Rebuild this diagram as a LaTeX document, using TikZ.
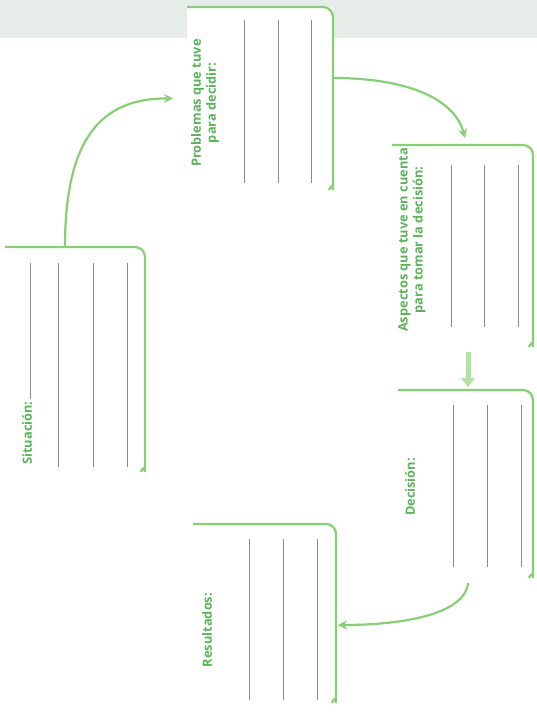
\documentclass[tikz,border=0pt]{standalone}
\usepackage{fontspec}
\setmainfont{Open Sans}
\usetikzlibrary{arrows.meta}
\definecolor{Leaf}{HTML}{86CF74}
\definecolor{LeafText}{HTML}{5BB35A}
\definecolor{Pale}{HTML}{B2E2A2}
\definecolor{Pencil}{HTML}{8A8A8A}
\definecolor{Band}{HTML}{E6EDE8}
\tikzset{
  sheet box/.style={inner sep=0pt,outer sep=0pt},
  sheet frame/.style={draw=Leaf,line width=2.2pt,rounded corners=10pt},
  sheet label/.style={rotate=90,align=center,font=\bfseries\fontsize{12.8}{15}\selectfont,
    text=LeafText,inner sep=1pt},
  write line/.style={draw=Pencil,line width=.7pt},
  flow arrow/.style={draw=Leaf,line width=2.2pt,-{Stealth[length=9pt,width=9pt]}},
  block arrow/.style={draw=Pale,line width=5pt,-{Triangle[length=9pt,width=14pt]}}
}

\begin{document}
\begin{tikzpicture}[x=1pt,y=-1pt]
  \useasboundingbox (0,0) rectangle (537,713);
  \fill[Band] (0,0) rectangle (537,38);
  \node[sheet box,minimum width=140pt,minimum height=225pt] (situacion) at (75,359.5) {};
  \node[sheet box,fill=white,minimum width=146pt,minimum height=183pt] (problemas) at (260,98.5) {};
  \node[sheet box,minimum width=141pt,minimum height=202pt] (aspectos) at (462.5,246) {};
  \node[sheet box,minimum width=135pt,minimum height=188pt] (decision) at (465.5,484) {};
  \node[sheet box,minimum width=143pt,minimum height=179pt] (resultados) at (264.5,613.5) {};
  \foreach \b in {situacion,problemas,aspectos,decision,resultados}
    \draw[sheet frame] (\b.north west) -- (\b.north east) -- ([yshift=10pt]\b.south east)
      to[out=-90,in=70] ([xshift=-4pt]\b.south east);
  \node[sheet label] (sitlabel) at (27,433) {Situación:};
  \node[sheet label] (problabel) at (205,103) {Problemas que tuve\\para decidir:};
  \node[sheet label] (asplabel) at (412,240) {Aspectos que tuve en cuenta\\para tomar la decisión:};
  \node[sheet label] (declabel) at (410,487) {Decisión:};
  \node[sheet label] (reslabel) at (207,630) {Resultados:};
  \draw[write line] (30,263) -- (30,399);
  \foreach \x in {58,93,127} \draw[write line] (\x,263) -- (\x,467);
  \foreach \x in {244,278,311} \draw[write line] (\x,20) -- (\x,183);
  \foreach \x in {451,484,518} \draw[write line] (\x,165) -- (\x,327);
  \foreach \x in {453,487,521} \draw[write line] (\x,405) -- (\x,567);
  \foreach \x in {249,283,317} \draw[write line] (\x,539) -- (\x,700);
  \draw[flow arrow] ([xshift=-10pt]situacion.north) .. controls (65,140) and (100,98)
    .. ([xshift=-14pt]problemas.west);
  \draw[flow arrow] ([yshift=20.5pt]problemas.east) .. controls (410,78) and (455,100)
    .. ([xshift=2.5pt,yshift=7pt]aspectos.north);
  \draw[block arrow,shorten <=5pt,shorten >=3pt] ([xshift=5.5pt]aspectos.south)
    -- ([xshift=2.5pt]decision.north);
  \draw[flow arrow] ([xshift=2.5pt,yshift=-5pt]decision.south) .. controls (465,615) and (400,625)
    .. ([xshift=2pt,yshift=-11.5pt]resultados.east);
\end{tikzpicture}
\end{document}
